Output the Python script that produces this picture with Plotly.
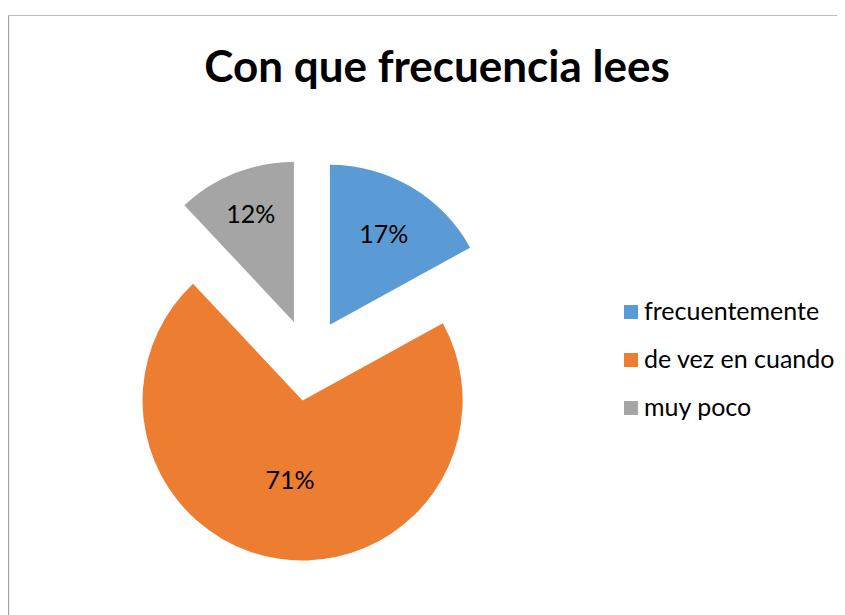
import plotly.graph_objects as go

OFF = 8  # the page body margin shifts the figure by 8 px
W, H = 845 - OFF, 615 - OFF

labels = ['frecuentemente', 'de vez en cuando', 'muy poco']
values = [17, 71, 12]
colors = ['#5B9BD5', '#ED7D31', '#A5A5A5']
title_text = 'Con que frecuencia lees'

FONT = 'Lato, Calibri, sans-serif'


def px_x(x):
    return (x - OFF) / W


def px_y(y):
    return 1 - (y - OFF) / H


# pie box: centre (309, 360), radius 160, pull 0.256 -> half size 201
cx, cy, half = 309, 360, 201
pie = go.Pie(
    labels=labels,
    values=values,
    marker=dict(colors=colors, line=dict(width=0)),
    pull=[0.256] * len(values),
    sort=False,
    direction='clockwise',
    rotation=0,
    textinfo='percent',
    texttemplate='%{percent:.0%}',
    textposition='inside',
    insidetextorientation='horizontal',
    insidetextfont=dict(family=FONT, size=25, color='black'),
    domain=dict(x=[px_x(cx - half), px_x(cx + half)],
                y=[px_y(cy + half), px_y(cy - half)]),
    showlegend=False,
    hoverinfo='label+percent',
)

fig = go.Figure(data=[pie])

# hand-drawn legend so the row spacing matches the original
shapes = []
annotations = []
row_y = [312, 360, 408]
for lab, col, y in zip(labels, colors, row_y):
    shapes.append(dict(type='rect', xref='paper', yref='paper',
                       x0=px_x(624), x1=px_x(638), y0=px_y(y + 7), y1=px_y(y - 7),
                       fillcolor=col, line=dict(width=0)))
    annotations.append(dict(text=lab, xref='paper', yref='paper',
                            x=px_x(642), y=px_y(y - 2), xanchor='left', yanchor='middle',
                            showarrow=False, font=dict(family=FONT, size=25, color='black')))

# chart area border (left and top edges visible)
shapes.append(dict(type='line', xref='paper', yref='paper',
                   x0=px_x(8.5), x1=px_x(8.5), y0=0, y1=px_y(15.5),
                   line=dict(color='#A6A6A6', width=1.5)))
shapes.append(dict(type='line', xref='paper', yref='paper',
                   x0=px_x(8.5), x1=1, y0=px_y(15.5), y1=px_y(15.5),
                   line=dict(color='#BFBFBF', width=1)))

fig.update_layout(
    width=W, height=H,
    margin=dict(l=0, r=0, t=0, b=0),
    paper_bgcolor='white',
    plot_bgcolor='white',
    title=dict(text='<b>' + title_text + '</b>', x=px_x(437), xanchor='center',
               y=px_y(67), yanchor='middle',
               font=dict(family=FONT, size=44, color='black')),
    shapes=shapes,
    annotations=annotations,
)

fig.write_html('out.html')
